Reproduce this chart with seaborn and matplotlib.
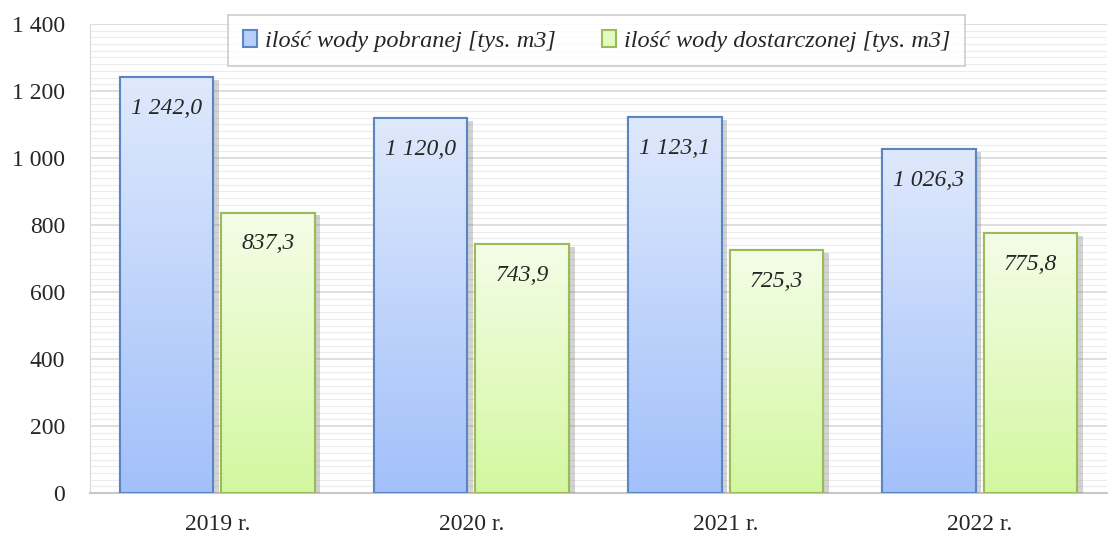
import numpy as np
import pandas as pd
import matplotlib
matplotlib.use("Agg")
import matplotlib.pyplot as plt
import matplotlib.patheffects as pe
from matplotlib.colors import LinearSegmentedColormap
from matplotlib.ticker import FuncFormatter, MultipleLocator
import seaborn as sns

# Dane
lata = ["2019 r.", "2020 r.", "2021 r.", "2022 r."]
pobrana = [1242.0, 1120.0, 1123.1, 1026.3]
dostarczona = [837.3, 743.9, 725.3, 775.8]
serie = ["ilość wody pobranej [tys. m3]", "ilość wody dostarczonej [tys. m3]"]

df = pd.DataFrame({
    "rok": lata * 2,
    "wartosc": pobrana + dostarczona,
    "seria": [serie[0]] * 4 + [serie[1]] * 4,
})

sns.set_style("white")
plt.rcParams['font.family'] = ['Liberation Serif', 'DejaVu Serif']

fig = plt.figure(figsize=(11.13, 5.33), dpi=100)
ax = fig.add_axes([0.081, 0.075, 0.9135, 0.88])

krawedzie = {serie[0]: "#5b86c2", serie[1]: "#9bbb59"}
gradienty = {
    serie[0]: LinearSegmentedColormap.from_list("b", ["#a2c0fa", "#dfe9fc"]),
    serie[1]: LinearSegmentedColormap.from_list("g", ["#d3f7a0", "#f4fde8"]),
}
pelne = {serie[0]: "#b8cffb", serie[1]: "#e2fbbf"}

sns.barplot(data=df, x="rok", y="wartosc", hue="seria", hue_order=serie,
            palette=pelne, width=0.8, gap=0.08, ax=ax, zorder=3,
            linewidth=1.5, errorbar=None, legend=True)

ax.set_ylim(0, 1400)
ax.set_xlim(-0.5, 3.5)

# gradient + cien
gradient = np.linspace(0, 1, 256).reshape(-1, 1)
for container, s in zip(ax.containers, serie):
    for bar, val in zip(container, df.loc[df.seria == s, "wartosc"]):
        bar.set_edgecolor(krawedzie[s])
        bar.set_path_effects([
            pe.SimplePatchShadow(offset=(4, -2), shadow_rgbFace="#707070", alpha=0.3),
            pe.Normal(),
        ])
        x0, y0 = bar.get_x(), bar.get_y()
        w, h = bar.get_width(), bar.get_height()
        im = ax.imshow(gradient, cmap=gradienty[s], origin="lower", aspect="auto",
                       extent=[x0, x0 + w, y0, y0 + h], zorder=3.5)
        im.set_clip_path(bar)
        # obramowanie na wierzchu
        ax.add_patch(plt.Rectangle((x0, y0), w, h, fill=False,
                                   edgecolor=krawedzie[s], linewidth=1.5, zorder=4))
        etykieta = f"{val:,.1f}".replace(",", " ").replace(".", ",")
        ax.annotate(etykieta, (x0 + w / 2, y0 + h), xytext=(0, -15),
                    textcoords="offset points", ha="center", va="top",
                    fontsize=17, style="italic", zorder=5)

ax.set_aspect("auto")

# siatka
ax.yaxis.set_major_locator(MultipleLocator(200))
ax.yaxis.set_minor_locator(MultipleLocator(20))
ax.grid(axis="y", which="major", color="#d9d9d9", linewidth=1.2, zorder=0)
ax.grid(axis="y", which="minor", color="#ececec", linewidth=0.8, zorder=0)
ax.set_axisbelow(True)

ax.yaxis.set_major_formatter(FuncFormatter(lambda v, p: f"{int(v):,}".replace(",", " ")))
ax.tick_params(axis="both", which="both", length=0, labelsize=17)
ax.tick_params(axis="x", pad=15)
ax.tick_params(axis="y", pad=18)
ax.set_xlabel("")
ax.set_ylabel("")

for side in ["top", "right"]:
    ax.spines[side].set_visible(False)
ax.spines["left"].set_color("#d9d9d9")
ax.spines["bottom"].set_color("#c8c8c8")
ax.spines["bottom"].set_linewidth(1.5)

leg = ax.legend(loc="upper center", bbox_to_anchor=(0.498, 1.045), ncol=2,
                frameon=True, fancybox=False, handlelength=0.6, handleheight=0.7,
                handletextpad=0.3, columnspacing=1.9, borderpad=0.6,
                prop={"family": ["Liberation Serif", "DejaVu Serif"],
                      "style": "italic", "size": 17.5})
leg.get_frame().set_edgecolor("#c0c0c0")
leg.get_frame().set_linewidth(1.2)
for h, s in zip(leg.legend_handles, serie):
    h.set_edgecolor(krawedzie[s])
    h.set_facecolor(pelne[s])
leg.set_zorder(10)

fig.savefig("out.png", dpi=100)
